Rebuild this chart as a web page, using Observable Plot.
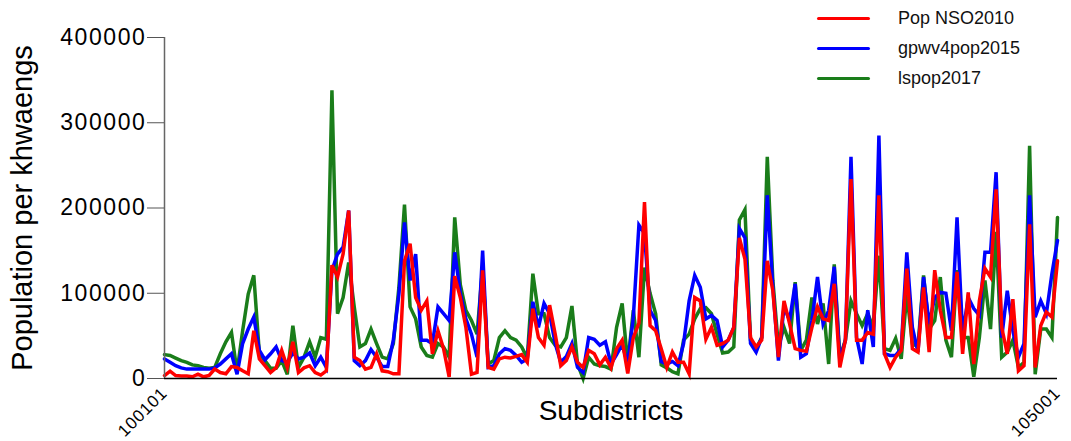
<!DOCTYPE html>
<html><head><meta charset="utf-8">
<script src="https://cdn.jsdelivr.net/npm/d3@7"></script>
<script src="https://cdn.jsdelivr.net/npm/@observablehq/plot@0.6"></script>
<style>
body{margin:0;background:#fff;font-family:"Liberation Sans",Arial,sans-serif;}
#wrap{position:relative;width:1071px;height:441px;overflow:hidden;}
.lg{position:absolute;left:817px;height:20px;display:flex;align-items:center;font-size:18px;color:#111;white-space:nowrap;}
.lg span.sw{display:inline-block;width:53px;height:3px;border-radius:1.5px;margin-right:28px;}
</style></head><body>
<div id="wrap"><div id="chart"></div></div>
<script>
const seriesNames = ["Pop NSO2010", "gpwv4pop2015", "lspop2017"];
const seriesColors = ["#ff0000", "#0000ff", "#1a7d1a"];
const xTickLabels = ["100101", "105001"];
const yTicks = [0, 100000, 200000, 300000, 400000];
const xTitle = "Subdistricts";
const yTitle = "Population per khwaengs";

const popNSO2010 = [3500,8600,3500,3000,3000,2000,5000,2000,3500,11000,7000,5500,14000,13000,9000,5500,56000,23000,15000,7000,12500,33000,13000,43000,7000,12500,15000,7000,4000,9000,
133000,119000,146000,197000,25000,21000,11000,13000,29000,9000,8000,5500,5500,138000,158000,95000,80000,91000,29000,56000,35000,2000,120000,95000,60000,5000,7000,127000,13000,11000,
23000,25000,24000,26000,28000,19000,82000,48000,39000,86000,52000,15000,21000,37000,19000,13000,33000,29000,16000,25000,12500,35000,45000,6000,48000,65000,207000,62000,56000,35000,
13000,31000,19000,19000,5500,95000,91000,46000,60000,39000,41000,45000,60000,165000,140000,48000,37000,45000,138000,103000,25000,91000,64000,35000,33000,32000,60000,84000,70000,68000,
111000,13000,45000,234000,45000,45000,54000,52000,215000,29000,13000,25000,33000,129000,35000,31000,107000,31000,127000,80000,48000,48000,125000,29000,101000,17000,91000,129000,119000,222000,
60000,29000,93000,9000,15000,181000,13000,62000,78000,72000,138000];

const gpwv4pop2015 = [23000,19000,15000,12500,11000,11000,11000,11000,11000,12500,17000,23000,29000,5000,41000,58000,72000,33000,22000,29000,37000,21000,19000,30000,23000,25000,30000,15000,25000,13000,
127000,146000,154000,197000,21000,15000,21000,34000,25000,14000,14000,45000,99000,183000,115000,146000,45000,45000,41000,84000,76000,68000,148000,100000,70000,52000,25000,150000,13000,15000,
29000,35000,33000,27000,19000,23000,90000,60000,88000,76000,41000,19000,26000,41000,13000,7000,48000,46000,39000,43000,17000,28000,40000,17000,72000,180000,170000,80000,68000,20000,
17000,20000,15000,41000,91000,121000,107000,70000,74000,68000,37000,45000,60000,176000,165000,41000,31000,48000,215000,107000,21000,84000,68000,111000,25000,29000,68000,119000,64000,80000,
131000,21000,45000,260000,48000,17000,80000,37000,285000,29000,27000,27000,35000,148000,60000,31000,119000,64000,95000,101000,100000,56000,189000,52000,95000,82000,74000,148000,148000,242000,
48000,103000,56000,25000,41000,215000,72000,91000,76000,123000,162000];

const lspop2017 = [28000,27000,24000,21000,19000,16000,15000,13000,12000,13000,29000,43000,54000,8000,56000,99000,121000,29000,21000,12000,12000,21000,5000,62000,13000,25000,43000,25000,48000,46000,
338000,76000,95000,136000,84000,37000,41000,58000,41000,25000,23000,41000,107000,204000,84000,70000,37000,27000,25000,41000,37000,25000,189000,110000,80000,68000,52000,131000,17000,21000,
48000,56000,48000,45000,37000,24000,123000,76000,76000,48000,39000,37000,48000,85000,17000,0,25000,17000,15000,14000,11000,60000,88000,17000,80000,25000,130000,100000,76000,16000,
12500,8000,5500,45000,52000,70000,82000,83000,76000,52000,30000,31000,37000,186000,198000,45000,35000,48000,260000,115000,37000,60000,41000,113000,33000,45000,95000,64000,88000,17000,
134000,25000,45000,91000,76000,62000,76000,60000,144000,35000,33000,47000,23000,99000,41000,37000,121000,58000,68000,119000,45000,25000,127000,48000,48000,2000,48000,115000,58000,172000,
25000,31000,45000,13000,19000,273000,5000,58000,58000,48000,189000];

const lastIndex = popNSO2010.length - 1;
const xTickPos = [0, lastIndex];
const FONT = '"Liberation Sans", Arial, sans-serif';

const lineOpts = (k) => ({x: (d, i) => i, y: d => d, stroke: seriesColors[k], strokeWidth: 3.5, strokeLinejoin: "miter", strokeMiterlimit: 4});

const chart = Plot.plot({
  width: 1071,
  height: 441,
  marginLeft: 164,
  marginRight: 14,
  marginTop: 37,
  marginBottom: 63,
  style: {fontFamily: FONT, background: "#fff", color: "#000"},
  x: {domain: [0, lastIndex]},
  y: {domain: [0, 400000]},
  marks: [
    Plot.line(lspop2017, lineOpts(2)),
    Plot.line(gpwv4pop2015, lineOpts(1)),
    Plot.line(popNSO2010, lineOpts(0)),
    Plot.ruleX([0], {stroke: "#666", strokeWidth: 1.5}),
    Plot.ruleY([0], {stroke: "#000", strokeWidth: 1.5}),
    Plot.axisY({ticks: yTicks, tickSize: 17, tickPadding: 1, fontSize: 23, label: null, stroke: "#555", tickFormat: d3.format("d")}),
    Plot.axisX({ticks: xTickPos, tickSize: 0, tickPadding: 12, tickRotate: -45, fontSize: 17, label: null, tickFormat: d => xTickLabels[xTickPos.indexOf(d)]}),
    Plot.text([xTitle], {frameAnchor: "bottom", dy: 33, lineAnchor: "middle", textAnchor: "middle", fontSize: 28, fill: "#000"}),
    Plot.text([yTitle], {frameAnchor: "left", dx: -142, rotate: -90, textAnchor: "middle", lineAnchor: "middle", fontSize: 29, fill: "#000"})
  ]
});
d3.select(chart).selectAll('g[aria-label="y-axis tick label"] text').attr("letter-spacing", "1.6px");
d3.select(chart).selectAll('g[aria-label="x-axis tick label"] text').attr("letter-spacing", "0.8px");
document.getElementById("chart").appendChild(chart);

const legendTops = [8, 38, 68];
const wrap = d3.select("#wrap");
seriesNames.forEach((name, k) => {
  const row = wrap.append("div").attr("class", "lg").style("top", legendTops[k] + "px");
  row.append("span").attr("class", "sw").style("background", seriesColors[k]);
  row.append("span").text(name);
});
</script>
</body></html>
